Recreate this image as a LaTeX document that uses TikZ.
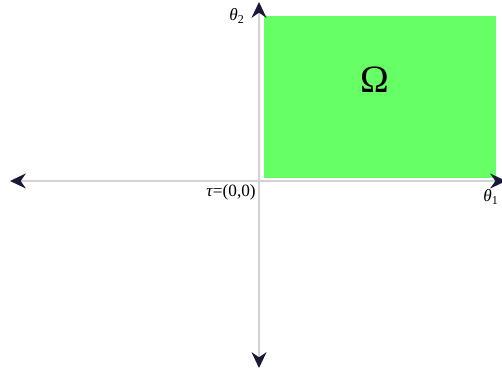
\documentclass[tikz,border=0pt]{standalone}
\usepackage{fontspec}
\setmainfont{Liberation Serif}
\usetikzlibrary{arrows.meta}
\definecolor{tipnavy}{RGB}{25,25,55}
\definecolor{regiongreen}{RGB}{102,255,102}
\tikzset{
  axis/.style={draw=gray!35, line width=1pt, -{Stealth[length=9pt,width=8.5pt,color=tipnavy]}},
  region/.style={fill=regiongreen, draw=none},
  lbl/.style={font=\fontsize{9.8}{11}\selectfont, inner sep=0pt}
}
\begin{document}
\begin{tikzpicture}[x=0.02cm,y=-0.02cm]
    %Frame
        \useasboundingbox (0,0) rectangle (502,377);
    %Origin and axis ends
        \coordinate (origin) at (259,181);
        \coordinate (xleft) at (10,181);
        \coordinate (xright) at (506,181);
        \coordinate (ytop) at (259,2);
        \coordinate (ybottom) at (259,368);
    %Region
        \path[region] (264,16) rectangle (496,178);
        \node (omega) at (375,80) {\fontsize{22}{24}\selectfont Ω};
    %Axes
        \draw[axis] (origin) -- (xleft);
        \draw[axis] (origin) -- (xright);
        \draw[axis] (origin) -- (ytop);
        \draw[axis] (origin) -- (ybottom);
    %Labels
        \node[lbl, anchor=east] (tau) at (256,192) {\textit{τ}=(0,0)};
        \node[lbl] (theta1) at (491,197) {\textit{θ}\textsubscript{1}};
        \node[lbl] (theta2) at (237,16) {\textit{θ}\textsubscript{2}};
\end{tikzpicture}
\end{document}
